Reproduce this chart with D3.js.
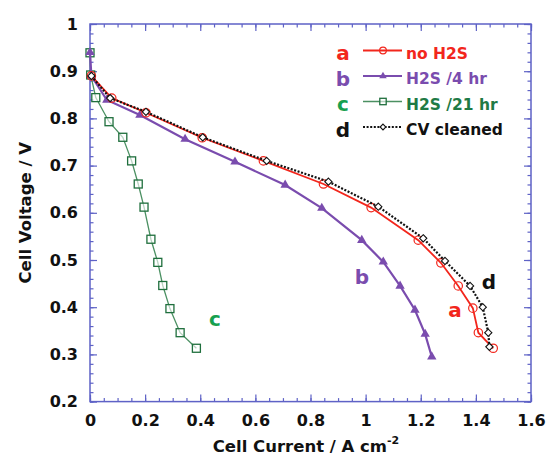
<!DOCTYPE html>
<html>
<head>
<meta charset="utf-8">
<script src="https://cdn.jsdelivr.net/npm/d3@7"></script>
<style>
  html, body { margin: 0; padding: 0; background: #fff; }
  svg { display: block; }
  text { font-family: "DejaVu Sans", Verdana, sans-serif; font-weight: bold; }
</style>
</head>
<body>
<svg id="chart" width="550" height="463"></svg>
<script>
// Polarization curves: cell voltage vs current density
const seriesKeys = ["a", "b", "c", "d"];
const seriesNames = ["no H2S", "H2S /4 hr", "H2S /21 hr", "CV cleaned"];

const aCurrent = [0.005, 0.079, 0.203, 0.407, 0.629, 0.847, 1.020, 1.191, 1.273, 1.336, 1.389, 1.409, 1.463];
const aVoltage = [0.890, 0.843, 0.812, 0.759, 0.710, 0.661, 0.611, 0.542, 0.494, 0.445, 0.398, 0.346, 0.313];

const bCurrent = [0, 0.005, 0.061, 0.181, 0.345, 0.526, 0.708, 0.841, 0.986, 1.064, 1.125, 1.179, 1.216, 1.240];
const bVoltage = [0.940, 0.890, 0.839, 0.807, 0.756, 0.708, 0.659, 0.610, 0.542, 0.496, 0.445, 0.394, 0.343, 0.295];

const cCurrent = [0, 0.0025, 0.021, 0.069, 0.119, 0.151, 0.175, 0.196, 0.221, 0.246, 0.264, 0.290, 0.327, 0.386];
const cVoltage = [0.939, 0.892, 0.844, 0.793, 0.760, 0.710, 0.661, 0.612, 0.544, 0.495, 0.446, 0.397, 0.346, 0.313];

const dCurrent = [0.005, 0.073, 0.203, 0.409, 0.641, 0.865, 1.046, 1.209, 1.288, 1.379, 1.425, 1.445, 1.449];
const dVoltage = [0.890, 0.843, 0.814, 0.760, 0.710, 0.666, 0.613, 0.546, 0.498, 0.445, 0.400, 0.346, 0.316];

const xTicks = [0, 0.2, 0.4, 0.6, 0.8, 1.0, 1.2, 1.4, 1.6];
const xTickLabels = ["0", "0.2", "0.4", "0.6", "0.8", "1", "1.2", "1.4", "1.6"];
const yTicks = [0.2, 0.3, 0.4, 0.5, 0.6, 0.7, 0.8, 0.9, 1.0];
const yTickLabels = ["0.2", "0.3", "0.4", "0.5", "0.6", "0.7", "0.8", "0.9", "1"];

const svg = d3.select("#chart");
const plotLeft = 90, plotRight = 531, plotTop = 24, plotBottom = 401.6;
const x = d3.scaleLinear().domain([0, 1.6]).range([plotLeft, plotRight]);
const y = d3.scaleLinear().domain([0.2, 1.0]).range([plotBottom, plotTop]);

const frameColor = "#5e62c6";

// minor / major tick positions
const xMinor = d3.range(0, 1.6001, 0.05).map(v => +v.toFixed(2));
const yMinor = d3.range(0.2, 1.0001, 0.02).map(v => +v.toFixed(2));

function styleAxis(g) {
  g.select(".domain").remove();
  g.selectAll("line").attr("stroke", frameColor).attr("stroke-width", 1.2);
}

// bottom
svg.append("g").attr("transform", `translate(0,${plotBottom})`)
  .call(d3.axisBottom(x).tickValues(xMinor).tickSizeInner(-3.5).tickSizeOuter(0).tickFormat(""))
  .call(styleAxis);
const xAxisG = svg.append("g").attr("transform", `translate(0,${plotBottom})`)
  .call(d3.axisBottom(x).tickValues(xTicks).tickSizeInner(-7).tickSizeOuter(0).tickPadding(10)
    .tickFormat((d, i) => xTickLabels[i]))
  .call(styleAxis);
xAxisG.selectAll("text").attr("font-size", 16).attr("fill", "#111").attr("dy", "0.9em");

// top
svg.append("g").attr("transform", `translate(0,${plotTop})`)
  .call(d3.axisTop(x).tickValues(xMinor).tickSizeInner(-3.5).tickSizeOuter(0).tickFormat(""))
  .call(styleAxis);
svg.append("g").attr("transform", `translate(0,${plotTop})`)
  .call(d3.axisTop(x).tickValues(xTicks).tickSizeInner(-7).tickSizeOuter(0).tickFormat(""))
  .call(styleAxis);

// left
svg.append("g").attr("transform", `translate(${plotLeft},0)`)
  .call(d3.axisLeft(y).tickValues(yMinor).tickSizeInner(-3.5).tickSizeOuter(0).tickFormat(""))
  .call(styleAxis);
const yAxisG = svg.append("g").attr("transform", `translate(${plotLeft},0)`)
  .call(d3.axisLeft(y).tickValues(yTicks).tickSizeInner(-7).tickSizeOuter(0).tickPadding(12)
    .tickFormat((d, i) => yTickLabels[i]))
  .call(styleAxis);
yAxisG.selectAll("text").attr("font-size", 16).attr("fill", "#111");

// right
svg.append("g").attr("transform", `translate(${plotRight},0)`)
  .call(d3.axisRight(y).tickValues(yMinor).tickSizeInner(-3.5).tickSizeOuter(0).tickFormat(""))
  .call(styleAxis);
svg.append("g").attr("transform", `translate(${plotRight},0)`)
  .call(d3.axisRight(y).tickValues(yTicks).tickSizeInner(-7).tickSizeOuter(0).tickFormat(""))
  .call(styleAxis);

// frame
svg.append("rect").attr("x", plotLeft).attr("y", plotTop)
  .attr("width", plotRight - plotLeft).attr("height", plotBottom - plotTop)
  .attr("fill", "none").attr("stroke", frameColor).attr("stroke-width", 1.5);

// axis titles
svg.append("text")
  .attr("transform", `translate(31,${(plotTop + plotBottom) / 2}) rotate(-90)`)
  .attr("text-anchor", "middle").attr("font-size", 16.5).attr("fill", "#111")
  .text("Cell Voltage / V");

const xt = svg.append("text").attr("x", 306).attr("y", 452)
  .attr("text-anchor", "middle").attr("font-size", 16.5).attr("fill", "#111");
xt.append("tspan").text("Cell Current / A cm");
xt.append("tspan").attr("font-size", 11).attr("dy", -8).text("-2");

// series
const styles = {
  a: { color: "#f2261c", width: 1.8, dash: null, marker: "circle" },
  b: { color: "#7a4cae", width: 2.2, dash: null, marker: "triangle" },
  c: { color: "#4b9062", width: 1.3, dash: null, marker: "square", markerColor: "#1f6f3d" },
  d: { color: "#111111", width: 2.2, dash: "2,1.6", marker: "diamond" }
};
const seriesData = {
  a: aCurrent.map((v, i) => [v, aVoltage[i]]),
  b: bCurrent.map((v, i) => [v, bVoltage[i]]),
  c: cCurrent.map((v, i) => [v, cVoltage[i]]),
  d: dCurrent.map((v, i) => [v, dVoltage[i]])
};

const line = d3.line().x(d => x(d[0])).y(d => y(d[1]));

function drawMarker(g, kind, color, cx, cy, scale) {
  const s = scale || 1;
  if (kind === "circle") {
    g.append("circle").attr("cx", cx).attr("cy", cy).attr("r", 4.2 * s)
      .attr("fill", "none").attr("stroke", color).attr("stroke-width", 1.2);
  } else if (kind === "triangle") {
    g.append("path").attr("transform", `translate(${cx},${cy})`)
      .attr("d", d3.symbol(d3.symbolTriangle, 38 * s * s)())
      .attr("fill", color);
  } else if (kind === "square") {
    const h = 4 * s;
    g.append("rect").attr("x", cx - h).attr("y", cy - h).attr("width", 2 * h).attr("height", 2 * h)
      .attr("fill", "#fff").attr("fill-opacity", 0.6).attr("stroke", color).attr("stroke-width", 1.3);
  } else if (kind === "diamond") {
    const h = 3.6 * s;
    g.append("path").attr("d", `M${cx},${cy - h}L${cx + h},${cy}L${cx},${cy + h}L${cx - h},${cy}Z`)
      .attr("fill", "#fff").attr("stroke", color).attr("stroke-width", 1.1);
  }
}

["c", "b", "a", "d"].forEach(k => {
  const st = styles[k];
  const g = svg.append("g");
  g.append("path").datum(seriesData[k]).attr("d", line)
    .attr("fill", "none").attr("stroke", st.color).attr("stroke-width", st.width)
    .attr("stroke-dasharray", st.dash);
  seriesData[k].forEach(p => drawMarker(g, st.marker, st.markerColor || st.color, x(p[0]), y(p[1])));
});

// legend
const letterColors = { a: "#f2261c", b: "#7a4cae", c: "#16a04f", d: "#111" };
const textColors = { a: "#f2261c", b: "#7a4cae", c: "#1e7a45", d: "#111" };
const legendBase = [58.5, 84, 109.5, 135];
seriesKeys.forEach((k, i) => {
  const yb = legendBase[i];
  const st = styles[k];
  svg.append("text").attr("x", 343).attr("y", yb + 1.5).attr("text-anchor", "middle")
    .attr("font-size", 20).attr("fill", letterColors[k]).text(k);
  svg.append("line").attr("x1", 363).attr("x2", 402).attr("y1", yb - 8).attr("y2", yb - 8)
    .attr("stroke", st.color).attr("stroke-width", Math.min(st.width, 1.8))
    .attr("stroke-dasharray", st.dash);
  drawMarker(svg, st.marker, st.markerColor || st.color, 383, yb - 8, 0.8);
  svg.append("text").attr("x", 406).attr("y", yb).attr("font-size", 15.5)
    .attr("fill", textColors[k]).text(seriesNames[i]);
});

// in-plot curve labels
const curveLabels = [
  { key: "b", cx: 362, base: 284 },
  { key: "a", cx: 455, base: 316.5 },
  { key: "d", cx: 489, base: 289 },
  { key: "c", cx: 215, base: 325.5 }
];
curveLabels.forEach(l => {
  svg.append("text").attr("x", l.cx).attr("y", l.base).attr("text-anchor", "middle")
    .attr("font-size", 20).attr("fill", letterColors[l.key]).text(l.key);
});
</script>
</body>
</html>
